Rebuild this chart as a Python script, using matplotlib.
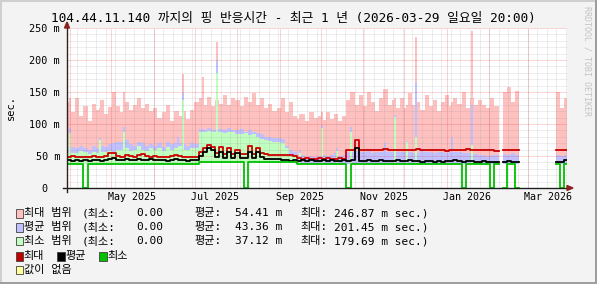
import datetime
import numpy as np
import matplotlib
matplotlib.use("Agg")
import matplotlib.pyplot as plt
from matplotlib.patches import Rectangle, Polygon

nan = float("nan")

# time base: one year ending 2026-03-29 20:00, values in 3-day bins
start = datetime.datetime(2025, 3, 29, 20, 0)
span_days = 365
bin_days = 3

# top of the "max range" band (pink)
pink_top = [
    135, 118, 140, 112, 128, 105, 132, 122, 138, 115,
    126, 150, 128, 118, 135, 122, 130, 140, 125, 132,
    120, 125, 110, 118, 130, 105, 120, 112, 120, 108,
    122, 135, 140, 130, 142, 128, 138, 132, 145, 130,
    140, 138, 128, 142, 135, 148, 130, 140, 125, 132,
    120, 125, 140, 118, 135, 112, 108, 115, 104, 118,
    110, 112, 106, 118, 108, 115, 104, 112, 138, 150,
    130, 145, 128, 150, 135, 120, 140, 155, 130, 138,
    125, 140, 125, 148, 130, 135, 122, 145, 128, 138,
    120, 135, 145, 128, 140, 132, 150, 125, 140, 130,
    138, 130, 125, 140, 128, nan, 150, 158, 135, 152,
    nan, nan, nan, nan, nan, nan, nan, nan, nan, 150,
    125, 140,
]
# top of the "avg range" band (blue)
blue_top = [
    64, 64, 62, 66, 63, 60, 65, 62, 66, 64,
    68, 70, 72, 72, 75, 68, 66, 72, 70, 65,
    68, 66, 70, 64, 72, 68, 70, 70, 68, 66,
    70, 68, 92, 91, 93, 90, 92, 92, 90, 94,
    91, 90, 92, 88, 90, 87, 86, 84, 80, 80,
    78, 78, 76, 65, 59, 56, 50, 52, 49, 50,
    48, 50, 52, 50, 52, 54, 50, 52, 56, 57,
    58, 57, 56, 58, 55, 57, 56, 57, 57, 56,
    56, 56, 57, 57, 55, 55, 58, 56, 57, 55,
    56, 56, 55, 56, 56, 57, 55, 54, 53, 53,
    52, 52, 50, 52, 51, nan, 53, 52, 54, 52,
    nan, nan, nan, nan, nan, nan, nan, nan, nan, 52,
    50, 52,
]
# top of the "min range" band (green)
green_top = [
    55, 55, 54, 58, 56, 53, 57, 55, 56, 56,
    58, 57, 60, 60, 62, 58, 60, 65, 60, 58,
    62, 60, 62, 58, 64, 60, 62, 66, 60, 60,
    63, 62, 88, 88, 89, 87, 88, 88, 86, 88,
    87, 85, 84, 86, 83, 84, 80, 76, 75, 74,
    72, 72, 70, 62, 52, 50, 38, 38, 38, 38,
    38, 38, 38, 38, 38, 38, 38, 38, 38, 38,
    38, 38, 38, 38, 38, 38, 38, 38, 38, 38,
    38, 38, 38, 38, 38, 38, 38, 38, 38, 38,
    38, 38, 38, 38, 38, 38, 38, 38, 38, 38,
    38, 38, 38, 38, 38, nan, 38, 38, 38, 38,
    nan, nan, nan, nan, nan, nan, nan, nan, nan, 38,
    38, 38,
]
max_line = [
    49, 50, 48, 49, 48, 49, 50, 48, 49, 50,
    54, 54, 50, 49, 51, 50, 49, 52, 53, 50,
    49, 50, 49, 48, 49, 50, 51, 50, 49, 49,
    48, 49, 56, 62, 67, 64, 54, 64, 53, 62,
    53, 60, 53, 53, 65, 53, 62, 54, 53, 52,
    52, 52, 51, 51, 51, 50, 47, 46, 47, 46,
    46, 47, 46, 47, 46, 46, 47, 46, 60, 59,
    75, 60, 59, 60, 60, 59, 60, 61, 60, 59,
    60, 60, 59, 60, 60, 61, 60, 59, 60, 60,
    59, 60, 58, 60, 60, 59, 60, 61, 60, 59,
    59, 60, 59, 60, 58, nan, 59, 60, 59, 60,
    nan, nan, nan, nan, nan, nan, nan, nan, nan, 59,
    60, 60,
]
avg_line = [
    43, 42, 44, 42, 43, 42, 43, 44, 42, 43,
    46, 47, 44, 43, 45, 44, 43, 46, 44, 43,
    45, 44, 43, 44, 42, 43, 45, 44, 43, 42,
    43, 43, 50, 57, 62, 60, 48, 57, 47, 56,
    47, 55, 47, 47, 57, 47, 56, 48, 46, 46,
    45, 45, 44, 44, 42, 43, 42, 43, 42, 43,
    42, 42, 43, 42, 43, 42, 42, 43, 42, 43,
    62, 42, 42, 43, 42, 42, 43, 42, 42, 42,
    43, 42, 42, 43, 42, 42, 41, 42, 42, 40,
    42, 40, 42, 42, 43, 42, 41, 42, 42, 41,
    41, 42, 41, 41, 41, nan, 41, 42, 41, 41,
    nan, nan, nan, nan, nan, nan, nan, nan, nan, 40,
    41, 43,
]
# min line: level changes at these bins, drops to 0 in a few bins
min_step_bins = [0, 32, 56]
min_step_vals = [37.5, 40.0, 37.5]
min_zero_bins = [4, 43, 68, 96, 103, 106, 109, 120]
gap_bins = [105, 110, 111, 112, 113, 114, 115, 116, 117, 118]

# narrow spikes (day from start, max/avg/min band tops)
spike_day = [2.2, 24.1, 41.6, 81.0, 84.7, 99.5, 109.5, 170.0, 186.1,
             197.0, 207.3, 232.0, 239.4, 248.2, 254.7, 281.0, 295.4]
spike_pink = [140, 125, 150, 120, 178, 174, 228, 115, 118,
              112, 150, 155, 140, 130, 236, 135, 245]
spike_blue = [94, 78, 96, 80, 148, 92, 200, 60, 98,
              62, 95, 70, 114, 74, 166, 80, 130]
spike_green = [86, 75, 88, 62, 137, 88, 179, 55, 94,
               58, 88, 38, 111, 72, 80, 38, 67]

y_ticks = [0, 50, 100, 150, 200, 250]
x_label_months = [(2025, 5), (2025, 7), (2025, 9), (2025, 11), (2026, 1), (2026, 3)]

title = "104.44.11.140 까지의 핑 반응시간 - 최근 1 년 (2026-03-29 일요일 20:00)"
range_names = ["최대 범위", "평균 범위", "최소 범위"]
range_min = ["0.00", "0.00", "0.00"]
range_avg = ["54.41 m", "43.36 m", "37.12 m"]
range_max = ["246.87 m", "201.45 m", "179.69 m"]

pink, blue, lgreen = "#ffc0c0", "#c0c0ff", "#c0ffc0"
red, green = "#cc0000", "#00c000"

W, H = 597, 284
mono = ["DejaVu Sans Mono", "Noto Sans CJK KR"]
plt.rcParams["font.family"] = mono


def days(d):
    return (d - start).total_seconds() / 86400.0


def fx(x):
    return x / W


def fy(y):
    return 1 - y / H


n = len(pink_top)
edges = np.arange(n + 1) * bin_days
xs = np.repeat(edges, 2)[1:-1]


def stepped(vals):
    return np.repeat(np.array(vals, dtype=float), 2)


base = np.zeros(n)
for i, b in enumerate(min_step_bins):
    base[b:] = min_step_vals[i]
base[gap_bins] = nan
min_line = base.copy()
min_line[min_zero_bins] = 0

fig = plt.figure(figsize=(W / 100, H / 100), dpi=100)
fig.patch.set_facecolor("#f3f3f3")
ax = fig.add_axes([fx(67), fy(188), 500 / W, 160 / H])
ax.set_facecolor("white")
ax.set_xlim(0, span_days)
ax.set_ylim(0, 250)
ax.set_xticks([])
ax.set_yticks([])
for s in ax.spines.values():
    s.set_visible(False)

sp_day = np.array(spike_day)
sp_base = base[(sp_day // bin_days).astype(int)]
z = 1.0
for top, sp_top, col in [(pink_top, spike_pink, pink),
                         (blue_top, spike_blue, blue),
                         (green_top, spike_green, lgreen)]:
    ax.fill_between(xs, stepped(base), stepped(top), color=col, lw=0, zorder=z)
    ax.bar(sp_day, np.array(sp_top) - sp_base, bottom=sp_base, width=1.5,
           color=col, lw=0, zorder=z + 0.1)
    z += 0.2

# grid
minor_c = (0.56, 0.56, 0.56, 0.3)
major_c = (0.87, 0.24, 0.24, 0.42)
sunday = start.replace(hour=0) + datetime.timedelta(days=1)
while days(sunday) < span_days:
    ax.axvline(days(sunday), color=minor_c, lw=0.72, ls=(0, (1, 1)), zorder=2)
    sunday += datetime.timedelta(days=7)
for v in range(10, 250, 10):
    if v % 50:
        ax.axhline(v, color=minor_c, lw=0.72, ls=(0, (1, 1)), zorder=2)
for v in y_ticks[1:]:
    ax.axhline(v, color=major_c, lw=0.72, ls=(0, (1, 1)), zorder=2.1, clip_on=False)
for k in range(12):
    m = 4 + k
    d = datetime.datetime(2025 + (m - 1) // 12, (m - 1) % 12 + 1, 1)
    ax.axvline(days(d), color=major_c, lw=0.72, ls=(0, (1, 1)), zorder=2.1)

# lines
ax.plot(xs, stepped(max_line), color=red, lw=1.3, zorder=3)
ax.plot(xs, stepped(avg_line), color="black", lw=1.3, zorder=3.1)
ax.plot(xs, stepped(min_line), color=green, lw=1.3, zorder=3.2)

# axes lines and arrows
ax.plot([-4 / 500, 501 / 500], [0, 0], transform=ax.transAxes, color="#1f1f1f",
        lw=1.0, clip_on=False, zorder=4)
ax.plot([0, 0], [-4 / 160, 164 / 160], transform=ax.transAxes, color="#2f1f1f",
        lw=1.0, clip_on=False, zorder=4)
arrow_c = "#8b2020"
fig.add_artist(Polygon([(fx(567), fy(185.5)), (fx(573), fy(188)), (fx(567), fy(190.5))],
                       closed=True, color=arrow_c, transform=fig.transFigure))
fig.add_artist(Polygon([(fx(64.5), fy(28)), (fx(67), fy(22)), (fx(69.5), fy(28))],
                       closed=True, color=arrow_c, transform=fig.transFigure))

# tick labels
for v in y_ticks:
    lab = f"{v} m" if v else "0"
    xr = 60 if v else 47
    fig.text(fx(xr), fy(188.5 - v * 0.64), lab, ha="right", va="center", fontsize=7.3)
for yy, mm in x_label_months:
    d = datetime.datetime(yy, mm, 16)
    fig.text(fx(67 + days(d) * 500 / span_days), fy(196.5), d.strftime("%b %Y"),
             ha="center", va="center", fontsize=7.2)

fig.text(fx(11), fy(107), "sec.", rotation=90, ha="center", va="center", fontsize=7.5)
fig.text(fx(293.5), fy(18.2), title, ha="center", va="center", fontsize=9.2)
fig.text(fx(587), fy(61), "RRDTOOL / TOBI OETIKER", rotation=-90, ha="center",
         va="center", fontsize=6, color="#c4c4c4")


# legend
def box(x, y, col):
    fig.add_artist(Rectangle((fx(x), fy(y + 4.2)), 7.6 / W, 8.4 / H, facecolor=col,
                             edgecolor="#404040", lw=0.6, transform=fig.transFigure))


row_y = [213.3, 227.4, 241.2]
for i, col in enumerate([pink, blue, lgreen]):
    y = row_y[i]
    box(15.7, y, col)
    fig.text(fx(23.5), fy(y), range_names[i], va="center", fontsize=8)
    fig.text(fx(82), fy(y), "(최소:", va="center", fontsize=8)
    fig.text(fx(163.5), fy(y), range_min[i], ha="right", va="center", fontsize=8)
    fig.text(fx(194.5), fy(y), "평균:", va="center", fontsize=8)
    fig.text(fx(235), fy(y), range_avg[i], va="center", fontsize=8)
    fig.text(fx(300), fy(y), "최대:", va="center", fontsize=8)
    fig.text(fx(334.3), fy(y), range_max[i] + " sec.)", va="center", fontsize=8)

for x0, col, lab in [(15.7, "#c00000", "최대"), (57.3, "black", "평균"), (99.3, green, "최소")]:
    box(x0, 256.5, col)
    fig.text(fx(x0 + 8), fy(256.5), lab, va="center", fontsize=8)
box(15.7, 270, "#ffffa0")
fig.text(fx(23.5), fy(270), "값이 없음", va="center", fontsize=8)

# 3d frame
for xy, w, h, c in [((0, 0), 2, H, "#cfcfcf"), ((0, H - 2), W, 2, "#cfcfcf"),
                    ((W - 2, 0), 2, H, "#9e9e9e"), ((0, 0), W, 2.5, "#9e9e9e")]:
    fig.add_artist(Rectangle((xy[0] / W, xy[1] / H), w / W, h / H, color=c, lw=0,
                             transform=fig.transFigure))

fig.savefig("out.png", dpi=100, facecolor=fig.get_facecolor())
